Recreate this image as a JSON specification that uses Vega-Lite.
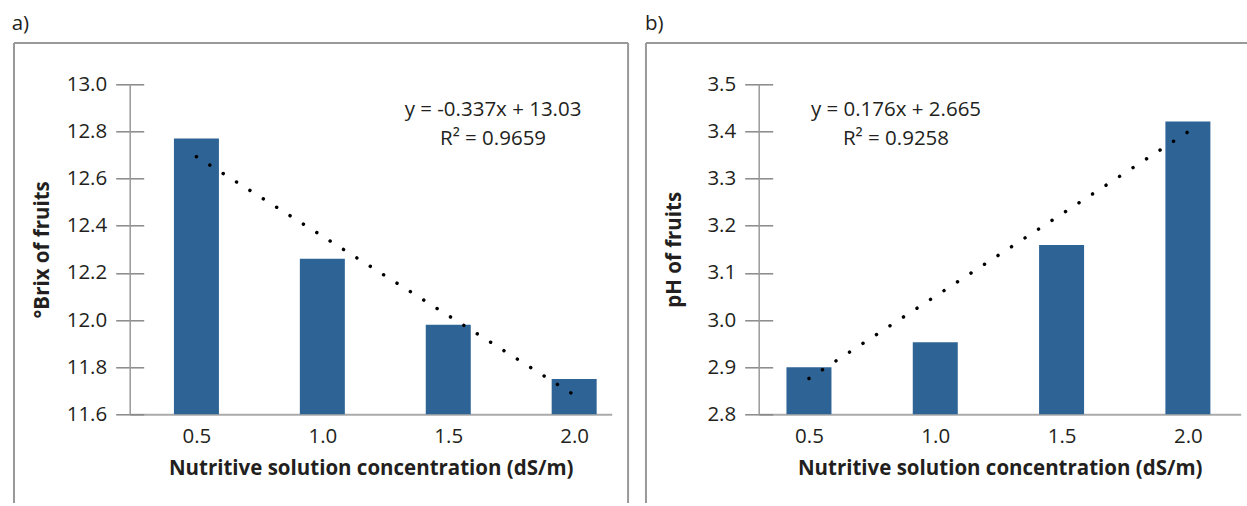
{
  "$schema": "https://vega.github.io/schema/vega-lite/v6.json",
  "padding": {"left": 10.7, "top": 13.3, "right": 0, "bottom": 0},
  "columns": 2,
  "align": "none",
  "spacing": 15,
  "config": {
    "view": {"stroke": null},
    "font": "Open Sans",
    "axis": {
      "grid": false,
      "labelFont": "Open Sans",
      "labelFontSize": 20.5,
      "labelColor": "#231f20",
      "titleFont": "Open Sans",
      "titleFontSize": 20.5,
      "titleFontWeight": "bold",
      "titleColor": "#231f20"
    }
  },
  "datasets": {
    "bars_a": [
      {"conc": 0.5, "brix": 12.77},
      {"conc": 1.0, "brix": 12.26},
      {"conc": 1.5, "brix": 11.98},
      {"conc": 2.0, "brix": 11.75}
    ],
    "trend_a": [
      {"conc": 0.5, "brix": 12.693},
      {"conc": 2.0, "brix": 11.682}
    ],
    "bars_b": [
      {"conc": 0.5, "ph": 2.9},
      {"conc": 1.0, "ph": 2.953},
      {"conc": 1.5, "ph": 3.159},
      {"conc": 2.0, "ph": 3.421}
    ],
    "trend_b": [
      {"conc": 0.5, "ph": 2.876},
      {"conc": 2.0, "ph": 3.399}
    ]
  },
  "concat": [
    {
      "width": 482,
      "height": 330,
      "resolve": {"axis": {"y": "independent"}},
      "layer": [
        {
          "data": {"name": "bars_a"},
          "mark": {"type": "bar", "color": "#2e6395", "size": 45},
          "encoding": {
            "x": {
              "field": "conc", "type": "quantitative",
              "scale": {"domain": [0.235, 2.149], "nice": false, "zero": false, "padding": 0},
              "axis": {
                "values": [0.5, 1, 1.5, 2], "format": ".1f",
                "ticks": false, "tickSize": 0, "labelPadding": 12,
                "domainColor": "#aaaaaa", "domainWidth": 2,
                "title": "Nutritive solution concentration (dS/m)", "titlePadding": 12
              }
            },
            "y": {
              "field": "brix", "type": "quantitative",
              "scale": {"domain": [11.6, 13.0], "nice": false, "zero": false, "padding": 0},
              "axis": {
                "orient": "left", "offset": -14, "tickSize": 28, "tickWidth": 1.5,
                "tickColor": "#888888", "domain": false,
                "values": [11.6, 11.8, 12.0, 12.2, 12.4, 12.6, 12.8, 13.0],
                "format": ".1f", "labelPadding": 9,
                "title": "°Brix of fruits", "titlePadding": 14
              }
            },
            "y2": {"datum": 11.6}
          }
        },
        {
          "data": {"name": "trend_a"},
          "mark": {"type": "line", "color": "#000000", "strokeWidth": 3.5, "strokeCap": "round", "strokeDash": [0.01, 15.8]},
          "encoding": {
            "x": {"field": "conc", "type": "quantitative"},
            "y": {
              "field": "brix", "type": "quantitative",
              "axis": {"orient": "left", "domain": true, "domainColor": "#999999", "domainWidth": 1.5, "ticks": false, "labels": false, "title": null}
            }
          }
        },
        {
          "data": {"values": [{}]},
          "mark": {"type": "text", "text": ["y = -0.337x + 13.03", "R² = 0.9659"], "lineHeight": 29, "align": "center", "baseline": "alphabetic", "fontSize": 20.5, "font": "Open Sans", "color": "#231f20"},
          "encoding": {
            "x": {"datum": 1.6778, "type": "quantitative"},
            "y": {"datum": 12.8655, "type": "quantitative", "axis": null}
          }
        },
        {
          "data": {"values": [{}]},
          "mark": {"type": "text", "text": "a)", "align": "left", "baseline": "alphabetic", "fontSize": 20.5, "font": "Open Sans", "color": "#231f20"},
          "encoding": {
            "x": {"datum": -0.2336, "type": "quantitative"},
            "y": {"datum": 13.2291, "type": "quantitative", "axis": null}
          }
        },
        {
          "data": {"values": [{}]},
          "mark": {"type": "rule", "color": "#999999", "strokeWidth": 2},
          "encoding": {
            "x": {"datum": -0.2245, "type": "quantitative"},
            "x2": {"datum": 2.214},
            "y": {"datum": 13.1752, "type": "quantitative", "axis": null}
          }
        },
        {
          "data": {"values": [{}]},
          "mark": {"type": "rule", "color": "#999999", "strokeWidth": 2},
          "encoding": {
            "x": {"datum": -0.2245, "type": "quantitative"},
            "y": {"datum": 13.1752, "type": "quantitative", "axis": null},
            "y2": {"datum": 11.2236}
          }
        },
        {
          "data": {"values": [{}]},
          "mark": {"type": "rule", "color": "#999999", "strokeWidth": 2},
          "encoding": {
            "x": {"datum": 2.214, "type": "quantitative"},
            "y": {"datum": 13.1752, "type": "quantitative", "axis": null},
            "y2": {"datum": 11.2236}
          }
        }
      ]
    },
    {
      "width": 482,
      "height": 330,
      "resolve": {"axis": {"y": "independent"}},
      "layer": [
        {
          "data": {"name": "bars_b"},
          "mark": {"type": "bar", "color": "#2e6395", "size": 45},
          "encoding": {
            "x": {
              "field": "conc", "type": "quantitative",
              "scale": {"domain": [0.301, 2.209], "nice": false, "zero": false, "padding": 0},
              "axis": {
                "values": [0.5, 1, 1.5, 2], "format": ".1f",
                "ticks": false, "tickSize": 0, "labelPadding": 12,
                "domainColor": "#aaaaaa", "domainWidth": 2,
                "title": "Nutritive solution concentration (dS/m)", "titlePadding": 12
              }
            },
            "y": {
              "field": "ph", "type": "quantitative",
              "scale": {"domain": [2.8, 3.5], "nice": false, "zero": false, "padding": 0},
              "axis": {
                "orient": "left", "offset": -14, "tickSize": 28, "tickWidth": 1.5,
                "tickColor": "#888888", "domain": false,
                "values": [2.8, 2.9, 3.0, 3.1, 3.2, 3.3, 3.4, 3.5],
                "format": ".1f", "labelPadding": 9,
                "title": "pH of fruits", "titlePadding": 22
              }
            },
            "y2": {"datum": 2.8}
          }
        },
        {
          "data": {"name": "trend_b"},
          "mark": {"type": "line", "color": "#000000", "strokeWidth": 3.5, "strokeCap": "round", "strokeDash": [0.01, 16.1]},
          "encoding": {
            "x": {"field": "conc", "type": "quantitative"},
            "y": {
              "field": "ph", "type": "quantitative",
              "axis": {"orient": "left", "domain": true, "domainColor": "#999999", "domainWidth": 1.5, "ticks": false, "labels": false, "title": null}
            }
          }
        },
        {
          "data": {"values": [{}]},
          "mark": {"type": "text", "text": ["y = 0.176x + 2.665", "R² = 0.9258"], "lineHeight": 29, "align": "center", "baseline": "alphabetic", "fontSize": 20.5, "font": "Open Sans", "color": "#231f20"},
          "encoding": {
            "x": {"datum": 0.8445, "type": "quantitative"},
            "y": {"datum": 3.4328, "type": "quantitative", "axis": null}
          }
        },
        {
          "data": {"values": [{}]},
          "mark": {"type": "text", "text": "b)", "align": "left", "baseline": "alphabetic", "fontSize": 20.5, "font": "Open Sans", "color": "#231f20"},
          "encoding": {
            "x": {"datum": -0.1491, "type": "quantitative"},
            "y": {"datum": 3.6146, "type": "quantitative", "axis": null}
          }
        },
        {
          "data": {"values": [{}]},
          "mark": {"type": "rule", "color": "#999999", "strokeWidth": 2},
          "encoding": {
            "x": {"datum": -0.1452, "type": "quantitative"},
            "x2": {"datum": 2.2341},
            "y": {"datum": 3.5876, "type": "quantitative", "axis": null}
          }
        },
        {
          "data": {"values": [{}]},
          "mark": {"type": "rule", "color": "#999999", "strokeWidth": 2},
          "encoding": {
            "x": {"datum": -0.1452, "type": "quantitative"},
            "y": {"datum": 3.5876, "type": "quantitative", "axis": null},
            "y2": {"datum": 2.6118}
          }
        }
      ]
    }
  ]
}
